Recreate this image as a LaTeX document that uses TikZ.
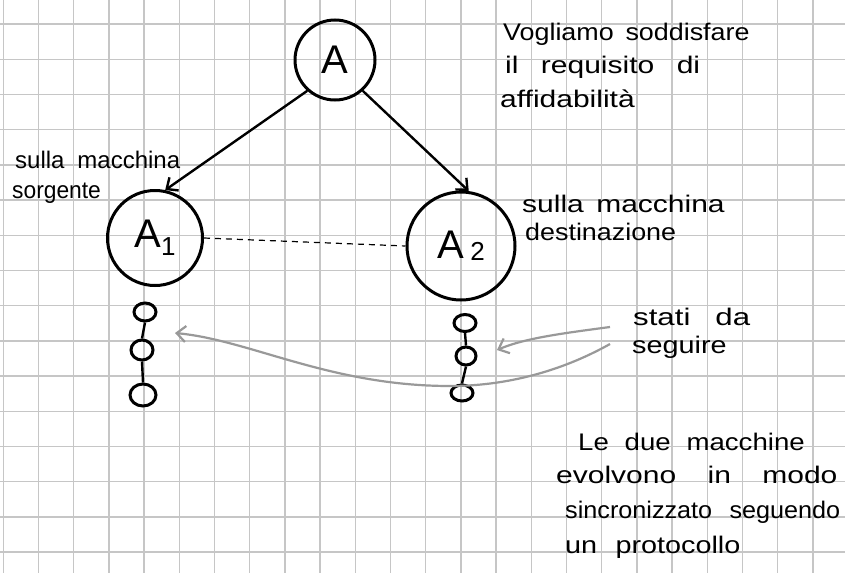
\documentclass[tikz,border=0pt]{standalone}
\usepackage{fontspec}
\setmainfont{Liberation Sans}
\usetikzlibrary{arrows.meta,shapes.geometric}
\newcommand\hwline[3]{\scalebox{#1}[1]{\makebox[#2pt][s]{#3}}}
\begin{document}
\begin{tikzpicture}[x=1pt,y=-1pt,
  gridline/.style={line width=1.4pt, color=gray!45},
  ink/.style={line width=3pt, black},
  statenode/.style={draw, ink, ellipse, inner sep=0pt},
  bigcircle/.style={draw, ink, circle, inner sep=0pt, font=\fontsize{40}{40}\selectfont},
  note/.style={font=\fontsize{24}{24}\selectfont, anchor=base west, inner sep=0pt},
  blacktip/.style={-{Straight Barb[length=9pt,width=16pt,line width=2.4pt]}},
  graytip/.style={line width=2.2pt, color=gray!80, -{Straight Barb[length=9pt,width=16pt,line width=2.2pt]}}]
\useasboundingbox (0,0) rectangle (845,573);
\fill[white] (0,0) rectangle (845,573);
\foreach \i in {0,...,23} \draw[gridline] ({3.3+35.2*\i},0) -- ++(0,573);
\foreach \j in {0,...,15} \draw[gridline] (0,{24+35.2*\j}) -- ++(845,0);

\node[bigcircle, minimum size=80pt] (A) at (335,60) {A};
\node[bigcircle, minimum size=95pt] (A1) at (155,238) {A\raisebox{-8pt}{\fontsize{26}{26}\selectfont 1}};
\node[bigcircle, minimum size=108pt] (A2) at (461,246) {A\,\raisebox{-2pt}{\fontsize{26}{26}\selectfont 2}};

\draw[ink, line width=2.4pt, blacktip] (A.228) -- (A1.78);
\draw[ink, line width=2.4pt, blacktip] (A.-48) -- (A2.82);
\draw[line width=1.2pt, dash pattern=on 6pt off 5pt] (A1.east) -- (A2.west);

\node[statenode, minimum width=22pt, minimum height=18pt] (s1) at (145,312) {};
\node[statenode, minimum width=22pt, minimum height=20pt] (s2) at (142,350) {};
\node[statenode, minimum width=26pt, minimum height=22pt] (s3) at (143,395) {};
\draw[ink, line width=2.4pt] (s1.south) -- (s2.north);
\draw[ink, line width=2.4pt] (s2.south) -- (s3.north);
\node[statenode, minimum width=22pt, minimum height=17pt] (r1) at (465,323) {};
\node[statenode, minimum width=20pt, minimum height=18pt] (r2) at (466,356) {};
\node[statenode, minimum width=22pt, minimum height=16pt] (r3) at (462,393) {};
\draw[ink, line width=2.4pt] (r1.south) -- (r2.north);
\draw[ink, line width=2.4pt] (r2.south) -- (r3.north);

\coordinate (g1) at (610,327);
\coordinate (g1e) at (497,350);
\coordinate (g2) at (610,344);
\coordinate (g2e) at (175,333);
\draw[graytip] (g1) .. controls (565,333) and (525,338) .. (g1e);
\draw[graytip] (g2) .. controls (560,372) and (505,386) .. (450,386) .. controls (330,386) and (250,340) .. (g2e);

\node[note] (t1) at (503,40) {\hwline{1.12}{220}{Vogliamo soddisfare}};
\node[note] (t2) at (505,73) {\hwline{1.25}{156}{il requisito di}};
\node[note] (t3) at (500,107) {\scalebox{1.25}[1]{affidabilità}};
\node[note] (t4) at (15,168) {\hwline{1.0}{165}{sulla macchina}};
\node[note] (t5) at (12,198) {\scalebox{0.95}[1]{sorgente}};
\node[note] (t6) at (522,212) {\hwline{1.25}{162}{sulla macchina}};
\node[note] (t7) at (525,240) {\scalebox{1.12}[1]{destinazione}};
\node[note] (t8) at (633,325) {\hwline{1.3}{90}{stati da}};
\node[note] (t9) at (632,353) {\scalebox{1.2}[1]{seguire}};
\node[note] (t10) at (578,450) {\hwline{1.15}{197}{Le due macchine}};
\node[note] (t11) at (556,483) {\hwline{1.25}{225}{evolvono in modo}};
\node[note] (t12) at (565,518) {\hwline{1.05}{262}{sincronizzato seguendo}};
\node[note] (t13) at (565,553) {\hwline{1.2}{146}{un protocollo}};
\end{tikzpicture}
\end{document}
